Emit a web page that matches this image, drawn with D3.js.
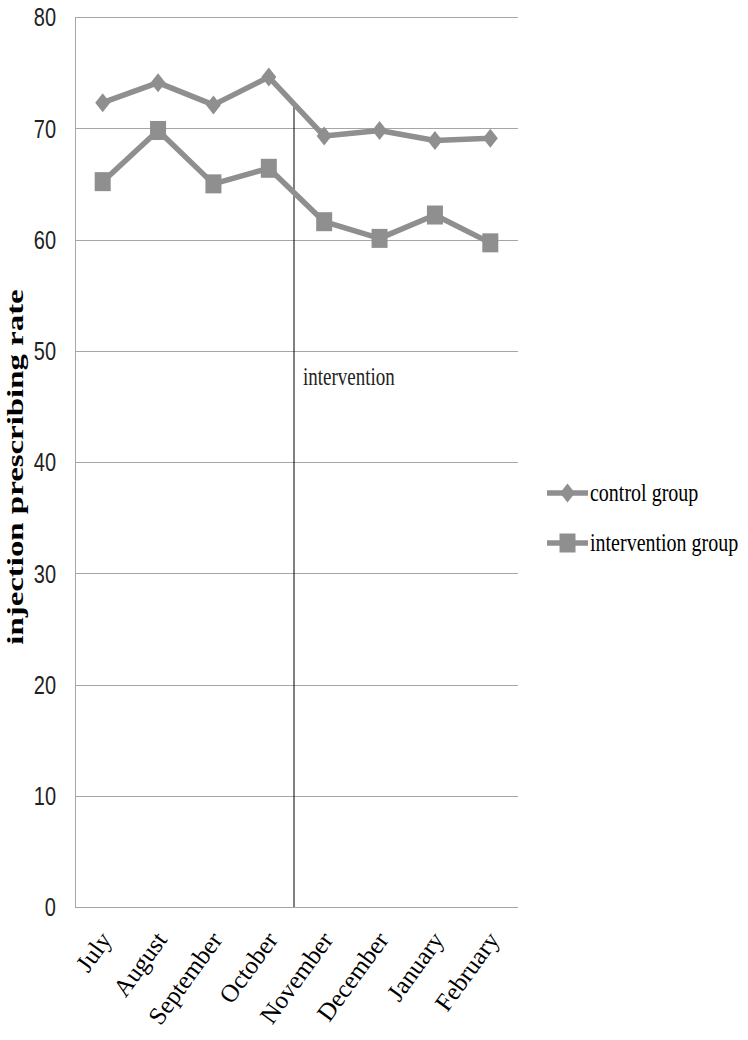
<!DOCTYPE html>
<html>
<head>
<meta charset="utf-8">
<script src="https://cdn.jsdelivr.net/npm/d3@7"></script>
<style>
  html, body { margin: 0; padding: 0; background: #fff; }
  svg { display: block; }
</style>
</head>
<body>
<svg id="chart" width="748" height="1040"></svg>
<script>
const months = ["July","August","September","October","November","December","January","February"];
const controlGroup = [72.3, 74.1, 72.1, 74.6, 69.3, 69.8, 68.9, 69.1];
const interventionGroup = [65.2, 69.8, 65.0, 66.4, 61.6, 60.1, 62.2, 59.7];
const yTicks = [0, 10, 20, 30, 40, 50, 60, 70, 80];
const seriesNames = ["control group", "intervention group"];
const interventionTop = 72.4;
const interventionLabelValue = 46.9;

(function () {
const svg = d3.select("#chart");
const plotLeft = 75, plotRight = 518, plotTop = 17, plotBottom = 907;
const SY = 1.3; // vertical stretch of the original rendering

const x = d3.scaleBand().domain(months).range([plotLeft, plotRight]);
const y = d3.scaleLinear().domain([0, 80]).range([plotBottom, plotTop]);
const cx = d => x(d) + x.bandwidth() / 2;

const grey = "#8f8f8f";

// gridlines
const yAxis = d3.axisLeft(y).tickValues(yTicks).tickSize(-(plotRight - plotLeft)).tickFormat("");
const gy = svg.append("g").attr("transform", `translate(${plotLeft},0)`).call(yAxis);
gy.select(".domain").remove();
gy.selectAll(".tick line").attr("stroke", "#a6a6a6").attr("stroke-width", 1).attr("shape-rendering", "crispEdges");

// left axis line
svg.append("line").attr("x1", plotLeft).attr("x2", plotLeft).attr("y1", y(80)).attr("y2", y(0))
  .attr("stroke", "#a6a6a6").attr("stroke-width", 1).attr("shape-rendering", "crispEdges");

// y tick labels
svg.append("g").selectAll("text").data(yTicks).join("text")
  .attr("transform", d => `translate(56,${y(d)}) scale(1,${SY})`)
  .attr("text-anchor", "end")
  .attr("dy", "0.36em")
  .attr("font-family", "'Liberation Sans Narrow', 'Liberation Sans', sans-serif")
  .attr("font-size", 20)
  .attr("fill", "#222")
  .text(d => d);

// y axis title
svg.append("text")
  .attr("transform", `translate(23,467) scale(1,1.37) rotate(-90)`)
  .attr("text-anchor", "middle")
  .attr("font-family", "'Liberation Serif', 'Times New Roman', serif")
  .attr("font-weight", "bold")
  .attr("font-size", 24)
  .attr("fill", "#000")
  .text("injection prescribing rate");

// x labels
svg.append("g").selectAll("text").data(months).join("text")
  .attr("transform", d => `translate(${cx(d) + 10},${plotBottom + 33}) rotate(-54)`)
  .attr("text-anchor", "end")
  .attr("font-family", "'Liberation Serif', 'Times New Roman', serif")
  .attr("font-size", 25)
  .attr("fill", "#000")
  .text(d => d);

// intervention line
const ix = x("November") - 2.5;
svg.append("line").attr("x1", ix).attr("x2", ix).attr("y1", y(interventionTop)).attr("y2", y(0))
  .attr("stroke", "#000").attr("stroke-width", 1);
svg.append("text")
  .attr("transform", `translate(${ix + 9},${y(interventionLabelValue)}) scale(1,${SY})`)
  .attr("font-family", "'Liberation Serif', 'Times New Roman', serif")
  .attr("font-size", 19)
  .attr("fill", "#222")
  .text("intervention");

// series
const line = d3.line().x((d, i) => cx(months[i])).y(d => y(d));
function diamond(g) {
  g.append("path").attr("d", "M0,-9.5 L7.5,0 L0,9.5 L-7.5,0 Z").attr("fill", grey);
}
function square(g) {
  g.append("rect").attr("x", -8).attr("y", -9.5).attr("width", 16).attr("height", 19).attr("fill", grey);
}

svg.append("path").datum(controlGroup).attr("d", line)
  .attr("fill", "none").attr("stroke", grey).attr("stroke-width", 5.5).attr("stroke-linejoin", "round");
svg.append("path").datum(interventionGroup).attr("d", line)
  .attr("fill", "none").attr("stroke", grey).attr("stroke-width", 5.5).attr("stroke-linejoin", "round");

svg.append("g").selectAll("g").data(controlGroup).join("g")
  .attr("transform", (d, i) => `translate(${cx(months[i])},${y(d)})`)
  .each(function () { diamond(d3.select(this)); });
svg.append("g").selectAll("g").data(interventionGroup).join("g")
  .attr("transform", (d, i) => `translate(${cx(months[i])},${y(d)})`)
  .each(function () { square(d3.select(this)); });

// legend
const legendY = [493, 543];
const lg = svg.append("g");
seriesNames.forEach((name, i) => {
  const g = lg.append("g").attr("transform", `translate(547,${legendY[i]})`);
  g.append("line").attr("x1", 0).attr("x2", 41).attr("y1", 0).attr("y2", 0)
    .attr("stroke", grey).attr("stroke-width", 5.5);
  const m = g.append("g").attr("transform", "translate(20.5,0)");
  if (i === 0) diamond(m); else square(m);
  g.append("text")
    .attr("transform", `translate(43,0) scale(1,${SY})`)
    .attr("dy", "0.32em")
    .attr("font-family", "'Liberation Serif', 'Times New Roman', serif")
    .attr("font-size", 20)
    .attr("fill", "#000")
    .text(name);
});
})();
</script>
</body>
</html>
